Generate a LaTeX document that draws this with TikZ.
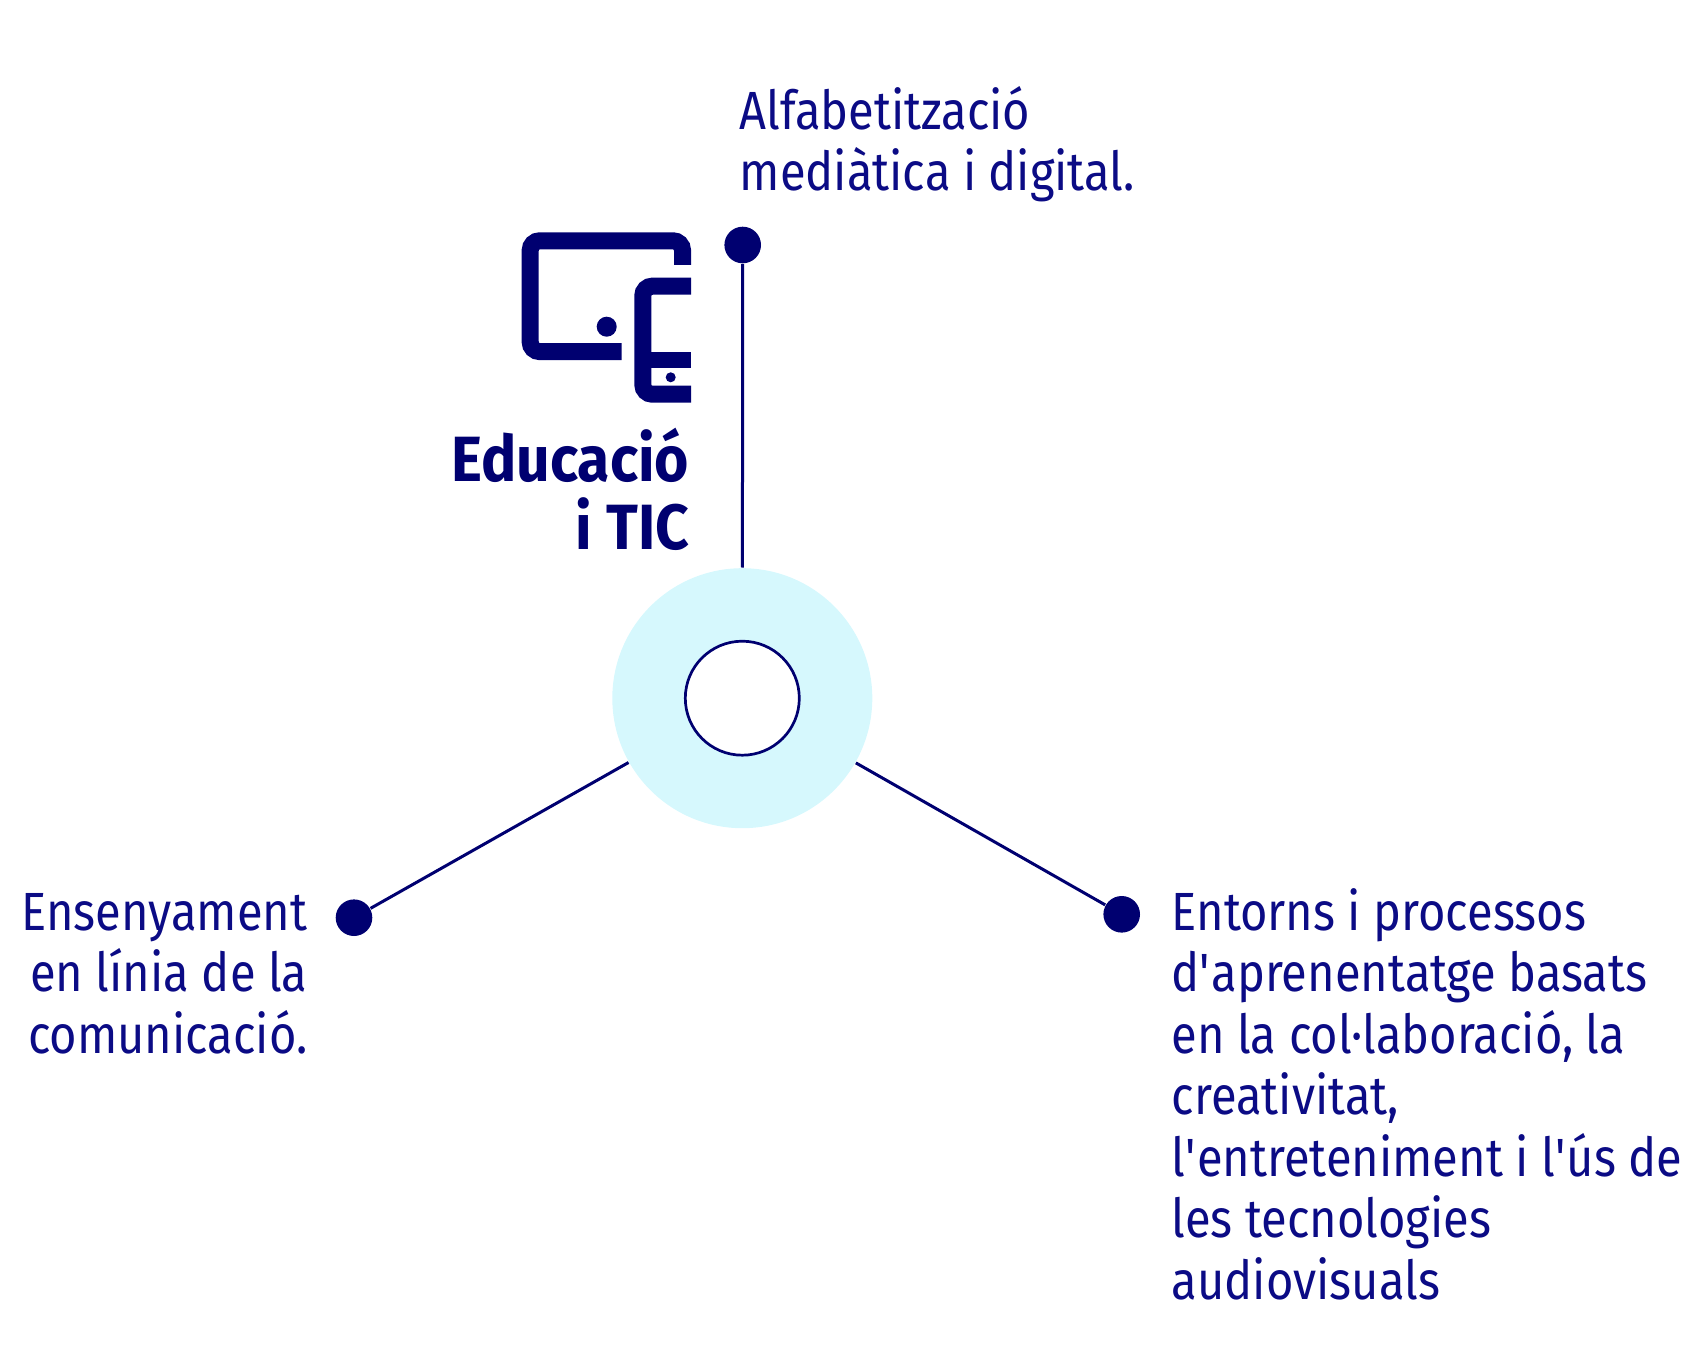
\documentclass[tikz,border=0pt]{standalone}
\usepackage{fontspec}
\setmainfont{Fira Sans}[FakeStretch=0.875]
\newfontfamily\headfont{Fira Sans}[FakeStretch=0.92]
\usepackage{tikz}
\definecolor{navy}{HTML}{000070}
\definecolor{textblue}{HTML}{0B0B85}
\definecolor{ringcyan}{HTML}{D6F8FD}

\begin{document}
\begin{tikzpicture}[x=0.1mm,y=-0.1mm,
    dot/.style = {circle, fill=navy, inner sep=0pt, minimum size=3.66mm},
    ring/.style = {circle, fill=ringcyan, inner sep=0pt, minimum size=26mm},
    hole/.style = {circle, draw=navy, fill=white, line width=0.27mm, inner sep=0pt, minimum size=11.4mm},
    desc/.style = {text=textblue, inner sep=0pt, font=\fontsize{15.3pt}{17.5pt}\selectfont},
    head/.style = {text=navy, inner sep=0pt, align=right, font=\fontsize{18.2pt}{19.4pt}\headfont\bfseries},
    icon/.style = {draw=navy, line width=1.7mm, rounded corners=0.95mm}]
        \useasboundingbox (0,0) rectangle (1687,1356);
        % centre
        \node[ring] (0) at (742.3,698.2) {};
        \node[hole] (00) at (0) {};
        % dots
        \node[dot] (1) at (742.7,245) {};
        \node[dot] (2) at (354,917.7) {};
        \node[dot] (3) at (1121.7,914.3) {};
        \path[draw=navy, line width=0.3mm]
        (1) edge (0)
        (2) edge (0)
        (3) edge (0);
        % texts (base = last line)
        \node[desc, align=left, anchor=base west] (t1) at (739,190.7) {Alfabetització\\mediàtica i digital.};
        \node[desc, align=right, anchor=base east] (t2) at (308,1053.3) {Ensenyament\\en línia de la\\comunicació.};
        \node[desc, align=left, anchor=base west] (t3) at (1171,1299.3) {Entorns i processos\\d\textquotesingle aprenentatge basats\\en la col·laboració, la\\creativitat,\\l\textquotesingle entreteniment i l\textquotesingle ús de\\les tecnologies\\audiovisuals};
        % icon
        \draw[icon] (621.7,351.6) -- (530.2,351.6) -- (530.2,240.8) -- (682.5,240.8) -- (682.5,265);
        \draw[icon] (691,286.2) -- (642.8,286.2) -- (642.8,394.2) -- (691,394.2);
        \fill[navy] (650,351.7) rectangle (691,368.3);
        \fill[navy] (606.7,326.7) circle (1mm);
        \fill[navy] (670.7,377.3) circle (0.5mm);
        \node[head, anchor=base east] (h) at (690,550) {Educació\\i TIC};
\end{tikzpicture}
\end{document}
